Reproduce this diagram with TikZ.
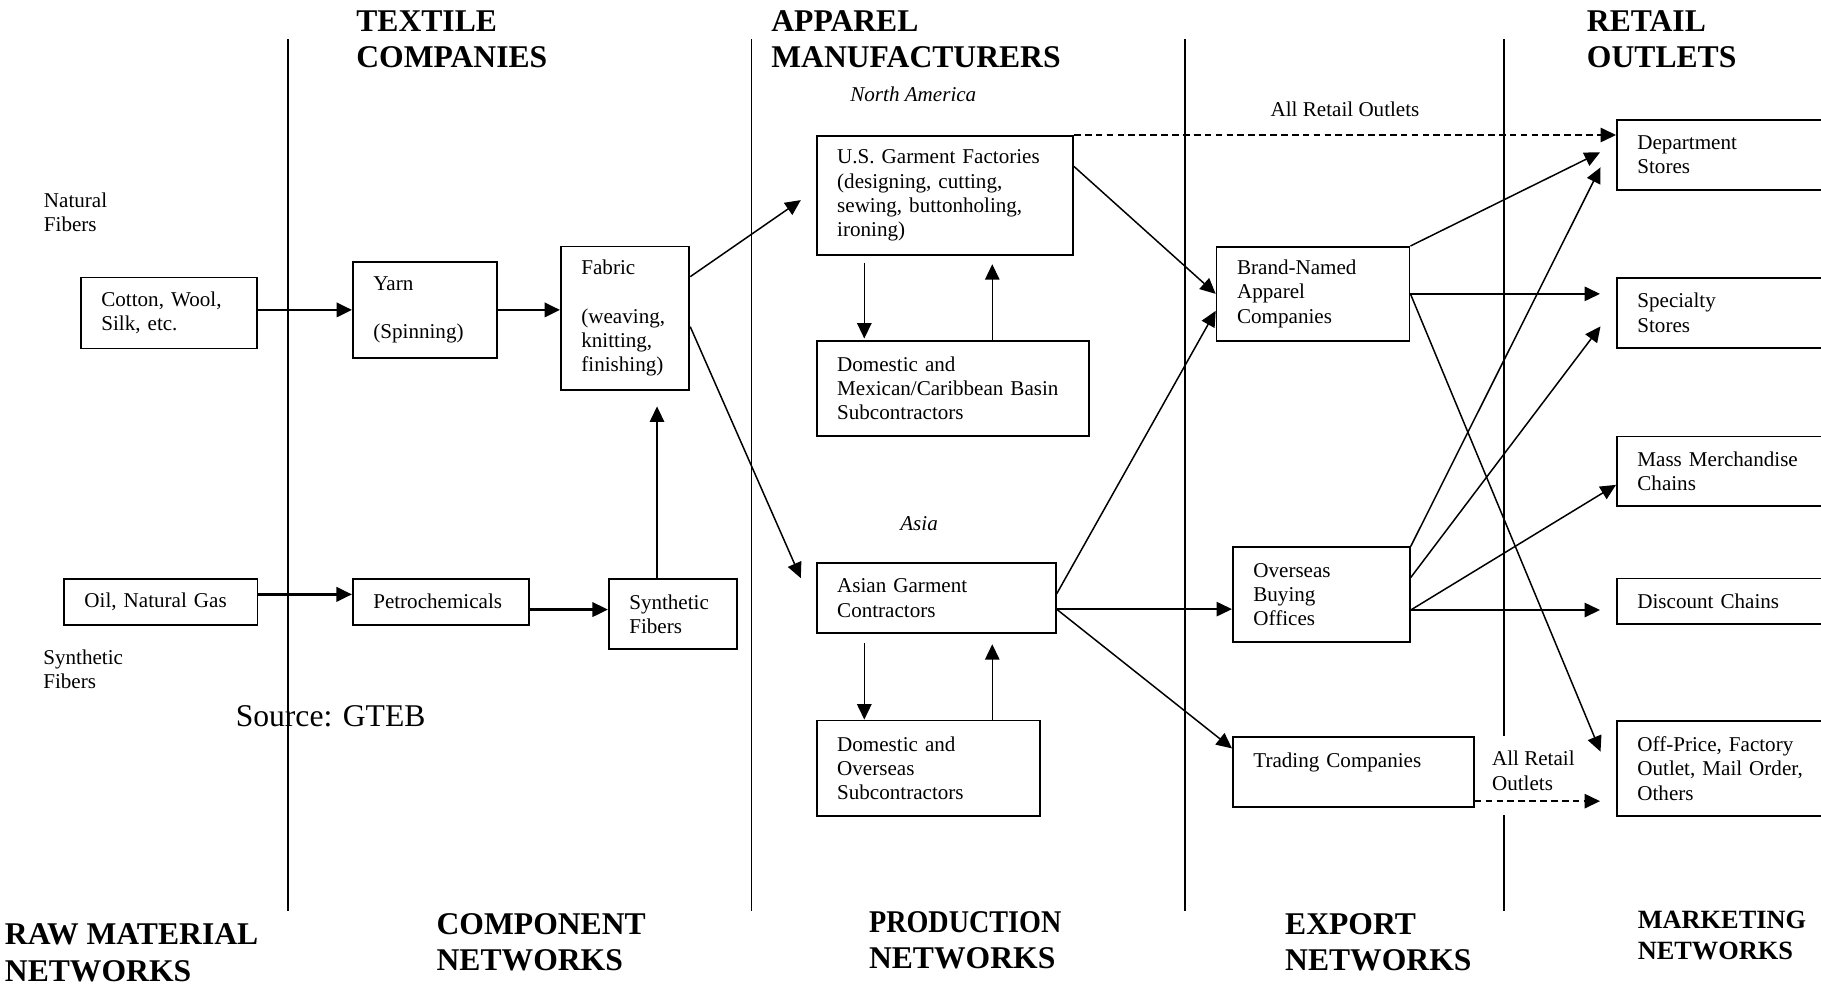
\documentclass[tikz,border=0pt]{standalone}
\usepackage{fontspec}
\setmainfont{Liberation Serif}
\usetikzlibrary{arrows.meta}

\tikzset{
  box/.style={draw, line width=1pt, anchor=north west, align=left, inner xsep=0.41cm, inner ysep=0pt, font=\fontsize{12}{13.8}\selectfont},
  head/.style={anchor=north west, align=left, inner sep=0pt, font=\fontsize{18}{20.8}\selectfont\bfseries},
  note/.style={anchor=north west, align=left, inner sep=0pt, font=\fontsize{12}{13.8}\selectfont},
  arr/.style={-{Triangle[length=0.31cm,width=0.29cm]}, line width=0.85pt},
  thickarr/.style={arr, line width=1.3pt},
  dasharr/.style={arr, dash pattern=on 3.8pt off 2.4pt},
  divider/.style={line width=1pt}
}

\begin{document}
\begin{tikzpicture}[x=0.02cm, y=-0.02cm]
  \useasboundingbox (0,0) rectangle (1821,986);

  % column dividers
  \draw[divider] (287.9,39.3) -- (287.9,911);
  \draw[divider] (751.6,39.3) -- (751.6,911);
  \draw[divider] (1184.8,39.3) -- (1184.8,911);
  \draw[divider] (1504.3,39.3) -- (1504.3,736);
  \draw[divider] (1504.3,815) -- (1504.3,911);

  % headings
  \node[head] (textile) at (356,10) {TEXTILE\\COMPANIES};
  \node[head] (apparel) at (771,10) {APPAREL\\MANUFACTURERS};
  \node[head] (retail) at (1586.6,10) {RETAIL\\OUTLETS};
  \node[head] (rawnet) at (4.6,923.6) {RAW MATERIAL\\NETWORKS};
  \node[head] (compnet) at (436.3,912.8) {COMPONENT\\NETWORKS};
  \node[head] (prodnet) at (868.7,911) {\scalebox{0.89}[1]{PRODUCTION}\\NETWORKS};
  \node[head] (expnet) at (1284.8,912.8) {EXPORT\\NETWORKS};
  \node[head, font=\fontsize{15}{17.5}\selectfont\bfseries] (mktnet) at (1637.4,911) {MARKETING\\NETWORKS};

  % side notes
  \node[note] (natural) at (43.6,192.7) {Natural\\Fibers};
  \node[note] (synthetic) at (43,649.3) {Synthetic\\Fibers};
  \node[note, font=\fontsize{18}{21}\selectfont] (source) at (235.4,705) {Source: GTEB};
  \node[note, font=\fontsize{12}{13.8}\selectfont\itshape] (namerica) at (850,87) {North America};
  \node[note, font=\fontsize{12}{13.8}\selectfont\itshape] (asia) at (900,515.7) {Asia};

  % raw materials and components
  \node[box, text width=2.70cm, minimum height=1.42cm] (cotton) at (80,276.7) {Cotton, Wool,\\Silk, etc.};
  \node[box, text width=2.06cm, minimum height=1.91cm] (yarn) at (352,261.3) {Yarn\\ \mbox{}\\ (Spinning)};
  \node[box, text width=1.75cm, minimum height=2.87cm] (fabric) at (560,245.7) {Fabric\\ \mbox{}\\ (weaving,\\ knitting,\\ finishing)};
  \node[box, text width=3.05cm, minimum height=0.92cm] (oil) at (63.1,577.8) {Oil, Natural Gas};
  \node[box, text width=2.70cm, minimum height=0.92cm] (petro) at (351.9,577.8) {Petrochemicals};
  \node[box, text width=1.75cm, minimum height=1.41cm] (synth) at (607.9,577.8) {Synthetic\\Fibers};

  % production
  \node[box, text width=4.31cm, minimum height=2.39cm] (usgarment) at (815.8,135) {U.S. Garment Factories\\(designing, cutting,\\sewing, buttonholing,\\ironing)};
  \node[box, text width=4.63cm, minimum height=1.90cm] (domsub) at (815.8,340) {Domestic and\\Mexican/Caribbean Basin\\Subcontractors};
  \node[box, text width=3.96cm, minimum height=1.41cm] (asian) at (815.8,562) {Asian Garment\\Contractors};
  \node[box, text width=3.65cm, minimum height=1.91cm] (oversub) at (815.8,719.6) {Domestic and\\Overseas\\Subcontractors};

  % export
  \node[box, text width=3.04cm, minimum height=1.88cm] (brand) at (1215.7,246) {Brand-Named\\Apparel\\Companies};
  \node[box, text width=2.72cm, minimum height=1.89cm] (overseas) at (1232,546.4) {Overseas\\Buying\\Offices};
  \node[box, text width=4.00cm, minimum height=1.41cm] (trading) at (1232,735.9) {Trading Companies\\ \mbox{}};

  % marketing
  \node[box, text width=4.86cm, minimum height=1.40cm] (dept) at (1616,119) {Department\\Stores};
  \node[box, text width=4.86cm, minimum height=1.40cm] (specialty) at (1616,277) {Specialty\\Stores};
  \node[box, text width=4.86cm, minimum height=1.40cm] (mass) at (1616,435.5) {Mass Merchandise\\Chains};
  \node[box, text width=4.86cm, minimum height=0.91cm] (discount) at (1616,577.7) {Discount Chains};
  \node[box, text width=4.86cm, minimum height=1.91cm] (offprice) at (1616,720) {Off-Price, Factory\\Outlet, Mail Order,\\Others};

  \node[note] (alllow) at (1491.7,751) {All Retail\\Outlets};

  % flows
  \draw[thickarr] (cotton.east |- yarn.west) -- (yarn.west);
  \draw[thickarr] (yarn.east) -- (yarn.east -| fabric.west);
  \draw[thickarr] ([yshift=0.146cm]oil.east) -- ([yshift=0.146cm]oil.east -| petro.west);
  \draw[thickarr] ([yshift=-0.158cm]petro.east) -- ([yshift=-0.158cm]petro.east -| synth.west);
  \draw[arr, shorten >=0.31cm] ([xshift=-0.32cm]synth.north) -- ([xshift=-0.32cm]synth.north |- fabric.south);
  \draw[arr] ([yshift=-0.62cm]fabric.north east) -- ([xshift=-0.3cm,yshift=-0.09cm]usgarment.west);
  \draw[arr] ([yshift=-1.62cm]fabric.north east) -- ([xshift=-0.3cm,yshift=0.4cm]asian.west);

  \draw[arr, shorten <=0.13cm, shorten >=0.03cm] ([xshift=0.97cm]usgarment.south west) -- ([xshift=0.97cm]usgarment.south west |- domsub.north);
  \draw[arr, shorten >=0.16cm] ([xshift=3.53cm]domsub.north west) -- ([xshift=3.53cm]domsub.north west |- usgarment.south);
  \draw[arr, shorten <=0.17cm] ([xshift=0.97cm]asian.south west) -- ([xshift=0.97cm]asian.south west |- oversub.north);
  \draw[arr, shorten >=0.2cm] ([xshift=3.53cm]oversub.north west) -- ([xshift=3.53cm]oversub.north west |- asian.south);

  \draw[dasharr] (usgarment.north east) -- (usgarment.north east -| dept.west)
    node[midway, anchor=base, yshift=0.37cm, font=\fontsize{12}{13.8}\selectfont] (alltop) {All Retail Outlets};
  \draw[arr] ([yshift=-0.63cm]usgarment.north east) -- (brand.west);
  \draw[arr] ([yshift=0.08cm]asian.east) -- ([yshift=-0.34cm]brand.west);
  \draw[arr] ([yshift=-0.22cm]asian.east) -- ([yshift=-0.22cm]asian.east -| overseas.west);
  \draw[arr] ([yshift=-0.22cm]asian.east) -- ([yshift=-0.25cm]trading.north west);

  \draw[arr] (brand.north east) -- ([xshift=-0.32cm,yshift=0.05cm]dept.west);
  \draw[arr, shorten >=0.32cm] (brand.east) -- (brand.east -| specialty.west);
  \draw[arr] (brand.east) -- ([xshift=-0.31cm,yshift=0.34cm]offprice.west);
  \draw[arr] (overseas.north east) -- ([xshift=-0.31cm,yshift=-0.25cm]dept.west);
  \draw[arr] ([yshift=0.34cm]overseas.east) -- ([xshift=-0.31cm,yshift=-0.27cm]specialty.west);
  \draw[arr] ([yshift=-0.31cm]overseas.east) -- ([yshift=-0.27cm]mass.west);
  \draw[arr, shorten >=0.32cm] ([yshift=-0.31cm]overseas.east) -- ([yshift=-0.31cm]overseas.east -| discount.west);
  \draw[dasharr, shorten >=0.32cm] ([yshift=0.14cm]trading.south east) -- ([yshift=0.14cm]trading.south east -| offprice.west);
\end{tikzpicture}
\end{document}
